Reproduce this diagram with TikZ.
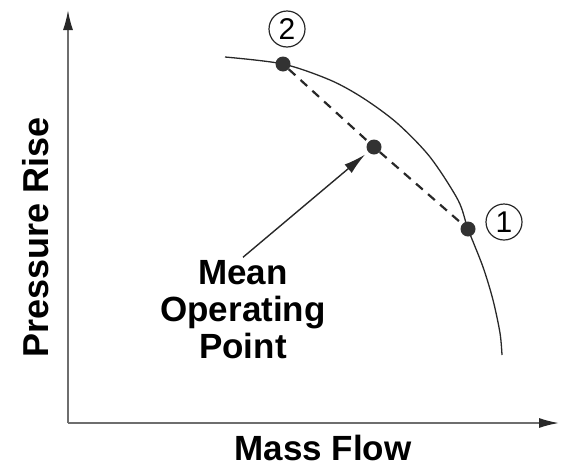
\documentclass[tikz,border=0pt]{standalone}
\usepackage{fontspec}
\setmainfont{Liberation Sans}
\usetikzlibrary{arrows.meta, positioning}
\definecolor{axisgray}{RGB}{110, 110, 110}
\definecolor{curvedark}{RGB}{40, 40, 40}
\definecolor{dotdark}{RGB}{50, 50, 50}
\tikzset{
    axis/.style={-{Latex[length=20pt, width=10pt, color=curvedark]}, axisgray, line width=1.6pt},
    curve/.style={curvedark, line width=1.3pt},
    opdot/.style={circle, fill=dotdark, inner sep=0pt, minimum size=15pt},
    numcircle/.style={circle, draw=curvedark, line width=1.2pt, inner sep=0pt, minimum size=36pt, font=\fontsize{30}{30}\selectfont},
    dashline/.style={curvedark, line width=2.2pt, dash pattern=on 9pt off 7pt},
    pointer/.style={-{Latex[length=22pt, width=11pt]}, curvedark, line width=1.4pt, shorten >=4pt},
    biglabel/.style={font=\fontsize{35}{37}\selectfont\bfseries, align=center, text=black}
}
\begin{document}
\begin{tikzpicture}[x=1pt, y=-1pt, node distance=4pt]
            \useasboundingbox (0,0) rectangle (561,469);
            \coordinate (origin) at (68,423);
            \coordinate (ytip) at (68,10);
            \coordinate (xtip) at (559,423);
            \draw [axis] (origin) -- (ytip);
            \draw [axis] (origin) -- (xtip);
            \node (massflow) [biglabel] at (323,448) {Mass Flow};
            \node (pressure) [biglabel, font=\fontsize{36}{37}\selectfont\bfseries, rotate=90] at (36,237) {Pressure Rise};

            % characteristic
            \draw [curve] plot [smooth, tension=0.5] coordinates {(225,57) (283,64) (330,80) (363,98) (397,123) (430,157) (458,200) (468,229) (483,267) (493,300) (500,333) (502,355)};

            \node (pt2) [opdot] at (283,64) {};
            \node (mean) [opdot] at (374,147) {};
            \node (pt1) [opdot] at (468,229) {};
            \node (lbl2) [numcircle] at (287,29) {2};
            \node (lbl1) [numcircle] at (504,222) {1};

            \draw [dashline] (pt2) -- (mean) -- (pt1);

            \node (meanlabel) [biglabel] at (243,310) {Mean\\Operating\\Point};
            \draw [pointer] (meanlabel.north) -- (mean);
        \end{tikzpicture}
\end{document}
